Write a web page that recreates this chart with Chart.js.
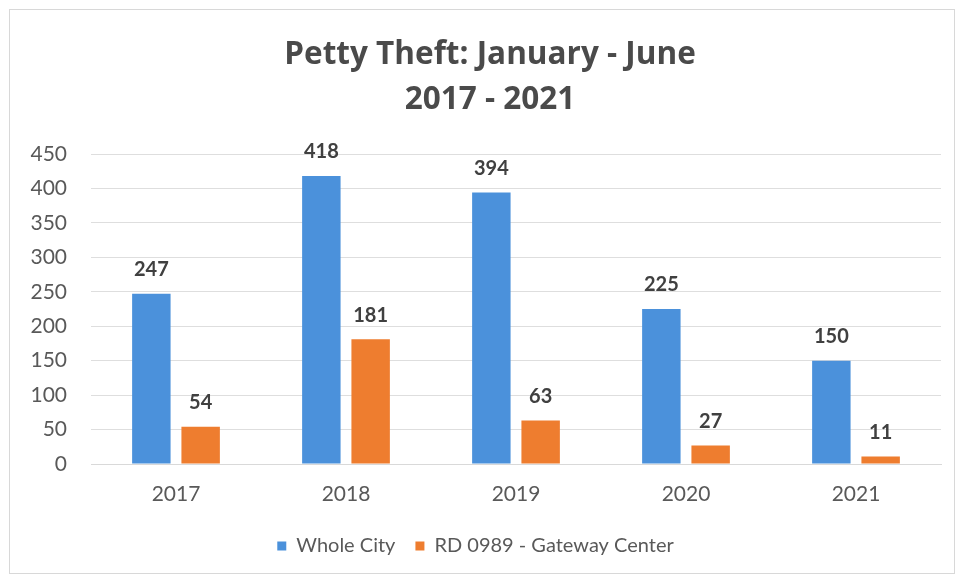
<!DOCTYPE html>
<html>
<head>
<meta charset="utf-8">
<script src="https://cdn.jsdelivr.net/npm/chart.js@4/dist/chart.umd.min.js"></script>
<style>
  body { margin: 0; background: #fff; }
  .frame {
    position: absolute; left: 9px; top: 9px;
    width: 944px; height: 563px;
    border: 1px solid #d8d8d8;
  }
</style>
</head>
<body>
<div class="frame"><canvas id="theft"></canvas></div>
<script>
// petty theft counts, Jan - Jun
const years = ['2017', '2018', '2019', '2020', '2021'];
const wholeCity = [247, 418, 394, 225, 150];
const gatewayCenter = [54, 181, 63, 27, 11];
const titleLines = ['Petty Theft: January - June', '2017 - 2021'];

const FONT = 'Lato, "Open Sans", sans-serif';

// value labels above each bar
const barLabels = {
  id: 'barLabels',
  afterDatasetsDraw(chart) {
    const ctx = chart.ctx;
    ctx.save();
    ctx.font = 'bold 20px ' + FONT;
    ctx.fillStyle = '#404040';
    ctx.textAlign = 'center';
    ctx.textBaseline = 'middle';
    chart.data.datasets.forEach((ds, i) => {
      chart.getDatasetMeta(i).data.forEach((bar, j) => {
        ctx.fillText(ds.data[j], bar.x, bar.y - 24);
      });
    });
    ctx.restore();
  }
};

// two-line heading, centred on the canvas rather than the plot area
const heading = {
  id: 'heading',
  afterDraw(chart) {
    const ctx = chart.ctx;
    ctx.save();
    ctx.font = 'bold 31.5px "Open Sans", sans-serif';
    ctx.fillStyle = '#4a4a4a';
    ctx.textAlign = 'center';
    ctx.textBaseline = 'middle';
    titleLines.forEach((line, i) => ctx.fillText(line, 480, 45 + i * 45));
    ctx.restore();
  }
};

new Chart(document.getElementById('theft'), {
  type: 'bar',
  data: {
    labels: years,
    datasets: [{
      label: 'Whole City',
      data: wholeCity,
      backgroundColor: '#4b91db'
    }, {
      label: 'RD 0989 - Gateway Center',
      data: gatewayCenter,
      backgroundColor: '#ee7d2f'
    }]
  },
  options: {
    responsive: true,
    maintainAspectRatio: false,
    animation: false,
    datasets: { bar: { categoryPercentage: 0.58, barPercentage: 0.78 } },
    layout: { padding: { left: 0, right: 13, top: 144, bottom: 7 } },
    scales: {
      x: {
        grid: { display: false },
        border: { color: '#d9d9d9' },
        ticks: { color: '#595959', font: { family: FONT, size: 21 }, padding: 10 },
        afterFit(scale) { scale.height = 52; }
      },
      y: {
        min: 0, max: 450,
        ticks: { stepSize: 50, color: '#595959', font: { family: FONT, size: 21 }, padding: 24 },
        grid: { color: '#dedede', drawTicks: false },
        border: { display: false },
        afterFit(scale) { scale.width = 81; }
      }
    },
    plugins: {
      title: { display: false },
      legend: {
        position: 'bottom',
        labels: {
          color: '#595959',
          font: { family: FONT, size: 20 },
          boxWidth: 9, boxHeight: 9,
          padding: 20
        }
      },
      tooltip: { enabled: false }
    }
  },
  plugins: [barLabels, heading]
});
</script>
</body>
</html>
